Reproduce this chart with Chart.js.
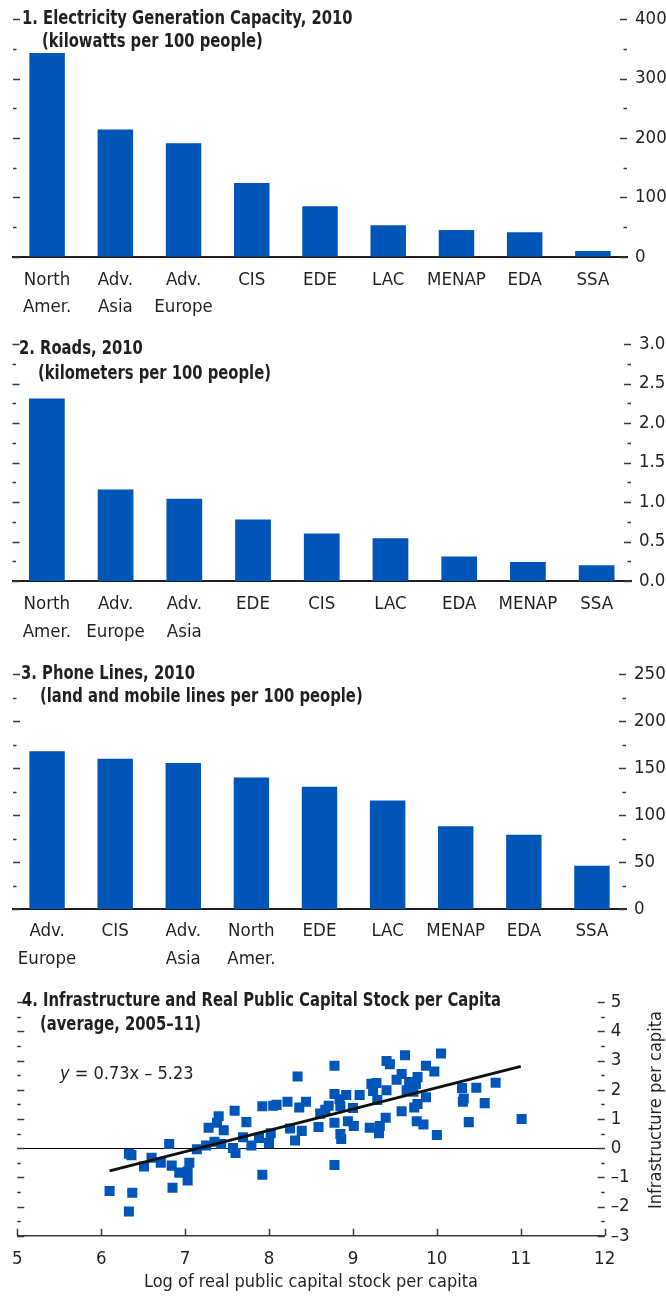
<!DOCTYPE html>
<html>
<head>
<meta charset="utf-8">
<script src="https://cdn.jsdelivr.net/npm/chart.js@4.4.1/dist/chart.umd.min.js"></script>
<style>
  html, body { margin: 0; padding: 0; background: #fff; }
  body { width: 666px; height: 1296px; position: relative; overflow: hidden;
         font-family: 'DejaVu Sans Condensed', 'Liberation Sans', sans-serif; color: #231f20; }
  .panel { position: absolute; left: 0; width: 666px; }
  .ttl { position: absolute; font-weight: bold; font-size: 19px; line-height: 24px; white-space: nowrap;
         transform: scaleX(0.865); transform-origin: left center; }
  .note { position: absolute; font-size: 18px; line-height: 24px; white-space: nowrap; }
  .ytitle { position: absolute; width: 240px; text-align: center; font-size: 18px; line-height: 24px;
            white-space: nowrap; transform: rotate(-90deg); }
</style>
</head>
<body>
<div class="panel" style="top:0;height:325px"><canvas id="elec"></canvas></div>
<div class="panel" style="top:325px;height:330px"><canvas id="roads"></canvas></div>
<div class="panel" style="top:655px;height:330px"><canvas id="phones"></canvas></div>
<div class="panel" style="top:985px;height:311px"><canvas id="infra"></canvas></div>

<div class="ttl" style="left:22px;top:5px">1. Electricity Generation Capacity, 2010</div>
<div class="ttl" style="left:42px;top:28px">(kilowatts per 100 people)</div>
<div class="ttl" style="left:19px;top:335px">2. Roads, 2010</div>
<div class="ttl" style="left:38px;top:360px">(kilometers per 100 people)</div>
<div class="ttl" style="left:21px;top:660px">3. Phone Lines, 2010</div>
<div class="ttl" style="left:40px;top:683px">(land and mobile lines per 100 people)</div>
<div class="ttl" style="left:22px;top:987px">4. Infrastructure and Real Public Capital Stock per Capita</div>
<div class="ttl" style="left:40px;top:1011px">(average, 2005–11)</div>
<div class="note" style="left:60px;top:1061px"><i>y</i> = 0.73x – 5.23</div>
<div class="ytitle" style="left:535px;top:1098px">Infrastructure per capita</div>

<script>
const FONT = "'DejaVu Sans Condensed', 'Liberation Sans', sans-serif";
const INK = '#231f20';
const BLUE = '#0055b8';

// 1. electricity generation capacity, kW per 100 people
const elecCats = [['North', 'Amer.'], ['Adv.', 'Asia'], ['Adv.', 'Europe'], 'CIS', 'EDE', 'LAC', 'MENAP', 'EDA', 'SSA'];
const elecVals = [343, 214, 191, 124, 85, 53, 45, 41, 9.5];

// 2. roads, km per 100 people
const roadCats = [['North', 'Amer.'], ['Adv.', 'Europe'], ['Adv.', 'Asia'], 'EDE', 'CIS', 'LAC', 'EDA', 'MENAP', 'SSA'];
const roadVals = [2.31, 1.16, 1.04, 0.78, 0.60, 0.54, 0.31, 0.24, 0.20];

// 3. phone lines per 100 people
const phoneCats = [['Adv.', 'Europe'], 'CIS', ['Adv.', 'Asia'], ['North', 'Amer.'], 'EDE', 'LAC', 'MENAP', 'EDA', 'SSA'];
const phoneVals = [168, 160, 155.5, 140, 130, 115.5, 88, 79, 46];

// 4. log real public capital stock per capita vs infrastructure index
const capX = [6.10, 6.33, 6.37, 6.33, 6.36, 6.51, 6.60, 6.71, 6.81, 6.84, 6.85, 6.93, 7.03, 7.03, 7.05, 7.14,
  7.25, 7.28, 7.35, 7.38, 7.40, 7.43, 7.46, 7.57, 7.59, 7.60, 7.69, 7.73, 7.79, 7.88, 7.92, 7.92, 8.00, 8.02,
  8.05, 8.09, 8.22, 8.25, 8.31, 8.34, 8.36, 8.39, 8.44, 8.59, 8.61, 8.67, 8.71, 8.78, 8.78, 8.78, 8.78, 8.84,
  8.85, 8.85, 8.86, 8.92, 8.94, 9.00, 9.01, 9.08, 9.20, 9.22, 9.24, 9.28, 9.29, 9.31, 9.32, 9.39, 9.40, 9.40,
  9.44, 9.52, 9.58, 9.58, 9.62, 9.64, 9.67, 9.72, 9.73, 9.75, 9.76, 9.77, 9.77, 9.84, 9.87, 9.87, 9.97, 10.00,
  10.05, 10.30, 10.31, 10.32, 10.38, 10.47, 10.57, 10.70, 11.01];
const infraY = [-1.47, -2.17, -1.53, -0.19, -0.24, -0.63, -0.33, -0.50, 0.14, -0.60, -1.36, -0.84, -0.80, -1.11, -0.50, -0.04,
  0.09, 0.70, 0.22, 0.87, 1.09, 0.14, 0.61, 0.00, 1.28, -0.17, 0.37, 0.89, 0.09, 0.35, 1.43, -0.91, 0.17, 0.51,
  1.45, 1.48, 1.59, 0.67, 0.26, 2.45, 1.39, 0.59, 1.59, 0.72, 1.18, 1.31, 1.45, 2.82, 1.85, 0.87, -0.58, 1.67,
  1.43, 0.48, 0.31, 1.82, 0.92, 1.37, 0.76, 1.82, 0.70, 2.20, 1.96, 2.23, 1.65, 0.51, 0.76, 1.04, 2.98, 1.98,
  2.87, 2.34, 1.26, 2.54, 3.18, 1.98, 2.26, 1.93, 1.39, 2.20, 0.92, 2.43, 1.51, 0.81, 1.74, 2.82, 2.62, 0.45,
  3.24, 2.06, 1.59, 1.70, 0.89, 2.07, 1.54, 2.24, 1.00];
// fitted line y = 0.73x - 5.23, end points as drawn
const trendX = [6.1, 11.0];
const trendY = [-0.78, 2.80];

// short tick marks pointing into the plot, on both sides (and up from the x axis for the scatter)
const innerTicks = {
  id: 'innerTicks',
  afterDraw(chart, args, opts) {
    const { ctx, chartArea: a } = chart;
    const ys = chart.scales.y;
    ctx.save();
    ctx.strokeStyle = '#3a3a3a';
    ctx.lineWidth = 1.5;
    ctx.beginPath();
    ys.ticks.forEach(t => {
      const py = Math.round(ys.getPixelForValue(t.value)) + 0.5;
      const r = t.value / opts.major;
      const len = Math.abs(r - Math.round(r)) < 1e-6 ? 7 : 3.5;
      ctx.moveTo(a.left, py); ctx.lineTo(a.left + len, py);
      ctx.moveTo(a.right - len, py); ctx.lineTo(a.right, py);
    });
    if (opts.xTicks) {
      const xs = chart.scales.x;
      xs.ticks.forEach(t => {
        const px = Math.round(xs.getPixelForValue(t.value)) + 0.5;
        ctx.moveTo(px, a.bottom); ctx.lineTo(px, a.bottom - 7);
      });
    }
    ctx.stroke();
    ctx.restore();
  }
};

function barPanel(id, cats, vals, yMax, step, major, fmt, left, right, top, axisH, pad) {
  return new Chart(document.getElementById(id), {
    type: 'bar',
    data: {
      labels: cats,
      datasets: [{ data: vals, backgroundColor: BLUE, barPercentage: 0.52, categoryPercentage: 1 }]
    },
    options: {
      responsive: true,
      maintainAspectRatio: false,
      animation: false,
      layout: { padding: { left: left, top: top, right: 0, bottom: 0 } },
      plugins: { legend: { display: false }, tooltip: { enabled: false }, innerTicks: { major: major } },
      scales: {
        x: {
          grid: { display: false, drawTicks: false },
          border: { display: true, color: INK, width: 2 },
          ticks: { color: INK, font: { family: FONT, size: 18.5, lineHeight: 1.513 }, padding: pad, maxRotation: 0, autoSkip: false },
          afterFit: s => { s.height = axisH; }
        },
        y: {
          position: 'right',
          min: 0, max: yMax,
          grid: { display: false, drawTicks: false },
          border: { display: false },
          ticks: {
            stepSize: step, color: INK, padding: 8, autoSkip: false,
            font: { family: FONT, size: 18.5 },
            callback: v => (Math.abs(v / major - Math.round(v / major)) < 1e-6 ? fmt(v) : '')
          },
          afterFit: s => { s.width = 666 - right; }
        }
      }
    },
    plugins: [innerTicks]
  });
}

barPanel('elec', elecCats, elecVals, 400, 50, 100, v => String(v), 13, 627, 18.3, 68.3, 9);
barPanel('roads', roadCats, roadVals, 3, 0.25, 0.5, v => v.toFixed(1), 12.5, 631, 17.3, 74, 9);
barPanel('phones', phoneCats, phoneVals, 250, 25, 50, v => String(v), 13, 626, 16, 76, 8);

new Chart(document.getElementById('infra'), {
  type: 'scatter',
  data: {
    datasets: [
      {
        type: 'line',
        data: trendX.map((x, i) => ({ x: x, y: trendY[i] })),
        borderColor: '#111', borderWidth: 3, pointRadius: 0, order: 0
      },
      {
        data: capX.map((x, i) => ({ x: x, y: infraY[i] })),
        backgroundColor: BLUE, borderWidth: 0, pointStyle: 'rect', pointRadius: 7.1, order: 1
      }
    ]
  },
  options: {
    responsive: true,
    maintainAspectRatio: false,
    animation: false,
    layout: { padding: { left: 15, top: 11.3, right: 0, bottom: 0 } },
    plugins: { legend: { display: false }, tooltip: { enabled: false }, innerTicks: { major: 1, xTicks: true } },
    scales: {
      x: {
        type: 'linear', min: 5, max: 12,
        grid: { display: false, drawTicks: false },
        border: { display: true, color: '#3a3a3a', width: 1.5 },
        ticks: { stepSize: 1, color: INK, padding: 12, autoSkip: false, font: { family: FONT, size: 18.5 } },
        title: { display: true, text: 'Log of real public capital stock per capita', color: INK,
                 font: { family: FONT, size: 18, lineHeight: 1.2 }, padding: { top: 0, bottom: 3 } },
        afterFit: s => { s.height = 311 - 250.7; }
      },
      y: {
        position: 'right', min: -3, max: 5,
        grid: { drawTicks: false, lineWidth: 1, color: c => (c.tick && c.tick.value === 0 ? '#000' : 'rgba(0,0,0,0)') },
        border: { display: false },
        ticks: {
          stepSize: 0.5, color: INK, padding: 6, autoSkip: false, font: { family: FONT, size: 18.5 },
          callback: v => (Number.isInteger(v) ? (v < 0 ? '\u2013' + Math.abs(v) : String(v)) : '')
        },
        afterFit: s => { s.width = 666 - 604.7; }
      }
    }
  },
  plugins: [innerTicks]
});
</script>
</body>
</html>
